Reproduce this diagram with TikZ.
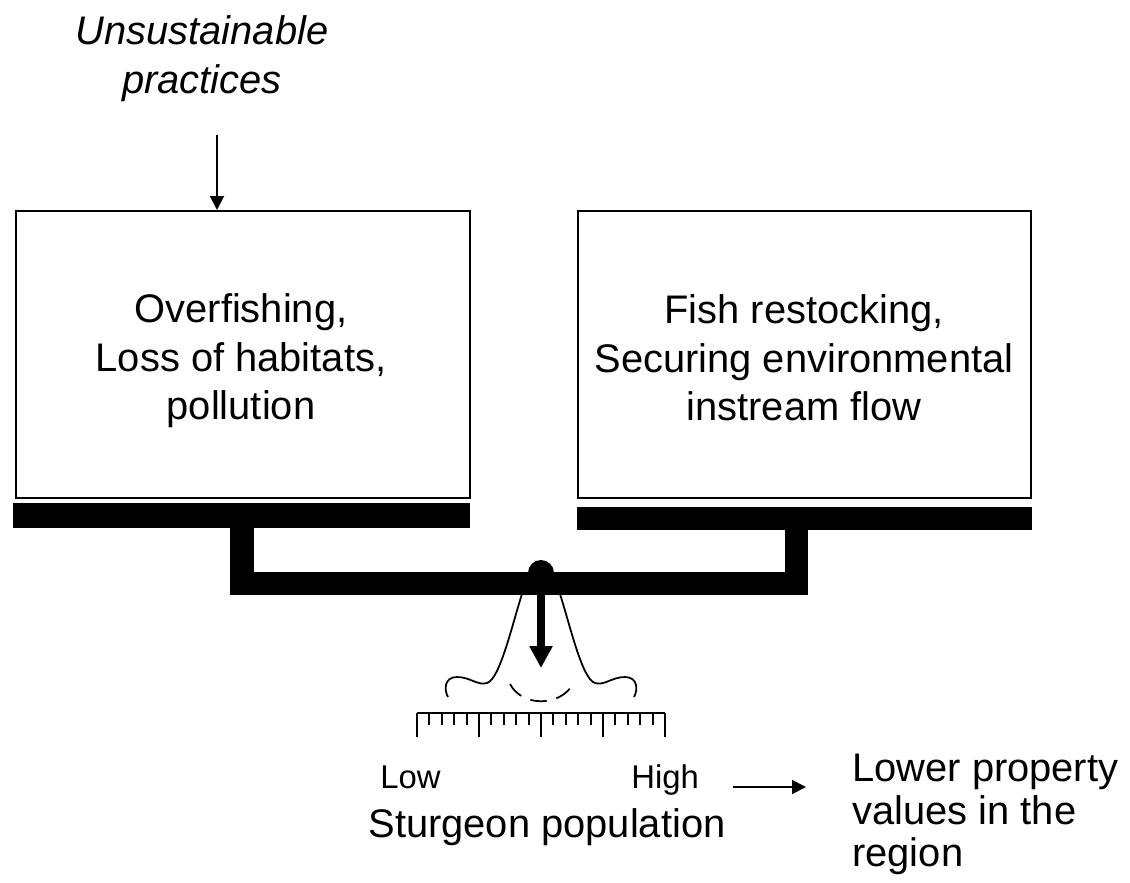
\documentclass[tikz,border=0pt]{standalone}
\usepackage{fontspec}
\setmainfont{Liberation Sans}
\usetikzlibrary{arrows.meta}
\begin{document}
\begin{tikzpicture}[x=0.02cm,y=-0.02cm,
  box/.style={draw, line width=1.1pt, inner sep=0},
  bigtxt/.style={font=\fontsize{22.7}{27.8}\selectfont, inner sep=0, align=center},
  sidetxt/.style={font=\fontsize{22.7}{24.2}\selectfont, inner sep=0, align=left},
  smalltxt/.style={font=\fontsize{18.7}{22}\selectfont, inner sep=0},
  thinarrow/.style={line width=1.1pt, -{Triangle[width=0.28cm,length=0.28cm]}},
  curve/.style={line width=1pt},
  tick/.style={line width=1.1pt}]
\useasboundingbox (0,0) rectangle (1130,883);

% text above
\node[bigtxt, font=\fontsize{22.7}{27.8}\selectfont\itshape, anchor=north] (unsust) at (202,15) {Unsustainable\\practices};
\coordinate (ua) at (217,135);

% boxes
\node[box, anchor=north west, minimum width=9.08cm, minimum height=5.74cm] (lbox) at (15,210) {};
\node[box, anchor=north west, minimum width=9.06cm, minimum height=5.74cm] (rbox) at (577,210) {};
\node[bigtxt, anchor=north] (ltxt) at (241,293) {Overfishing,\\Loss of habitats,\\pollution};
\node[bigtxt, anchor=north] (rtxt) at (804,294) {Fish restocking,\\Securing environmental\\instream flow};

\draw[thinarrow] (ua) -- (ua |- lbox.north);

% scale beam
\fill (13,503) rectangle (470,528);
\fill (230,526) rectangle (254,595);
\fill (230,572) rectangle (808,595);
\fill (785,528) rectangle (808,595);
\fill (577,507) rectangle (1032,530);
\fill (541,573) circle[radius=0.26cm];

% pointer
\coordinate (ptop) at (541,590);
\coordinate (ptip) at (541,668);
\draw[line width=4.2pt, -{Triangle[width=0.44cm,length=0.44cm]}] (ptop) -- (ptip);

% bell curve
\draw[curve] (448,697) .. controls (444,690) and (444,677) .. (457,677)
  .. controls (470,677) and (478,686) .. (487,683)
  .. controls (500,679) and (512,625) .. (522,594);
\draw[curve] (634,697) .. controls (638,690) and (638,677) .. (625,677)
  .. controls (612,677) and (604,686) .. (595,683)
  .. controls (582,679) and (570,625) .. (560,594);
\draw[curve, dash pattern=on 0.33cm off 0.2cm] (510,684) .. controls (522,707) and (560,707) .. (573,684);

% ruler
\draw[tick] (417,713) -- (665,713);
\foreach \k in {0,...,20}{
  \pgfmathsetmacro{\xx}{417+\k*12.4}
  \pgfmathsetmacro{\yy}{mod(\k,5)==0 ? 737 : 725}
  \pgfmathsetmacro{\ww}{mod(\k,5)==0 ? 1.6 : 1.2}
  \draw[tick, line width=\ww pt] (\xx,713) -- (\xx,\yy);
}

% labels
\node[smalltxt, anchor=base west] (low) at (380,788) {Low};
\node[smalltxt, anchor=base west] (high) at (631,788) {High};
\node[bigtxt, anchor=base] (pop) at (547,837) {Sturgeon population};

\coordinate (ra) at (733,787);
\node[sidetxt, anchor=north west] (lower) at (852,754) {Lower property\\values in the\\region};
\draw[thinarrow] (ra) -- (806,787);
\end{tikzpicture}
\end{document}
